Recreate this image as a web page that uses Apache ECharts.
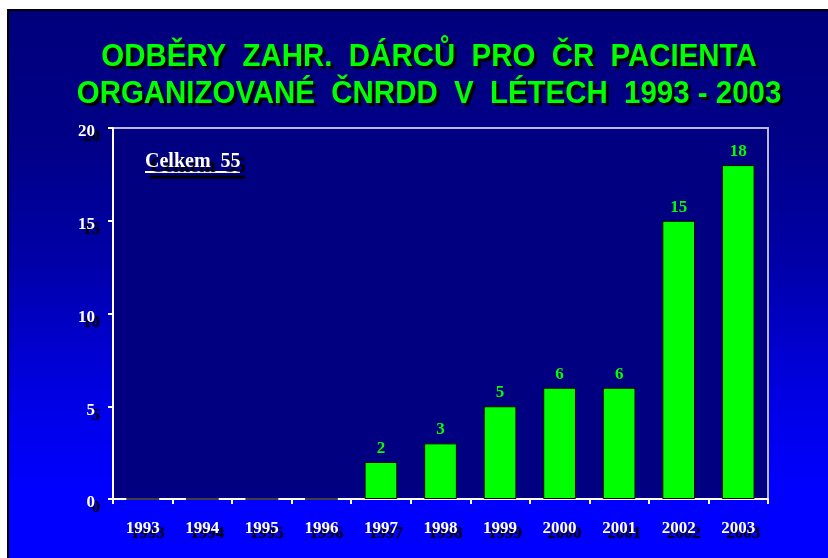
<!DOCTYPE html>
<html>
<head>
<meta charset="utf-8">
<script src="https://cdn.jsdelivr.net/npm/echarts@6/dist/echarts.min.js"></script>
<style>
  html, body { margin: 0; padding: 0; background: #fff; }
  #chart { width: 828px; height: 558px; }
</style>
</head>
<body>
<div id="chart"></div>
<script>
// roky a pocty odberu
var years = ["1993", "1994", "1995", "1996", "1997", "1998", "1999", "2000", "2001", "2002", "2003"];
var counts = [0, 0, 0, 0, 2, 3, 5, 6, 6, 15, 18];
var yTicks = [0, 5, 10, 15, 20];
var titleLines = ["ODBĚRY  ZAHR.  DÁRCŮ  PRO  ČR  PACIENTA", "ORGANIZOVANÉ  ČNRDD  V  LÉTECH  1993 - 2003"];
var totalText = "Celkem  55";

var serif = '"Liberation Serif", "Times New Roman", serif';
var sans = '"Liberation Sans", Arial, sans-serif';

var chart = echarts.init(document.getElementById("chart"));

// stin textu jako v puvodnim slajdu
var shadow = {
  textShadowColor: "#000",
  textShadowBlur: 1,
  textShadowOffsetX: 5,
  textShadowOffsetY: 5
};

chart.setOption({
  animation: false,
  backgroundColor: "#fff",
  graphic: [
    {
      type: "rect",
      z: -10,
      silent: true,
      shape: { x: 8, y: 10, width: 830, height: 560 },
      style: {
        stroke: "#000",
        lineWidth: 2,
        fill: new echarts.graphic.LinearGradient(0, 0, 0, 1, [
          { offset: 0, color: "#00007c" },
          { offset: 0.25, color: "#000088" },
          { offset: 0.45, color: "#0000a8" },
          { offset: 0.7, color: "#0000e6" },
          { offset: 0.86, color: "#0000ff" },
          { offset: 1, color: "#0000ff" }
        ])
      }
    },
    {
      type: "text",
      z: 100,
      x: 429,
      y: 39,
      scaleX: 0.92,
      style: {
        text: titleLines.join("\n"),
        font: "bold 32px " + sans,
        lineHeight: 37,
        fill: "#00ff00",
        textAlign: "center",
        textShadowColor: "#000",
        textShadowBlur: 1,
        textShadowOffsetX: 3,
        textShadowOffsetY: 3
      }
    },
    // podtrzeni "Celkem 55" (stin + bila cara)
    {
      type: "line",
      z: 99,
      shape: { x1: 150, y1: 177, x2: 245, y2: 177 },
      style: { stroke: "#000", lineWidth: 3 }
    },
    {
      type: "line",
      z: 100,
      shape: { x1: 145, y1: 172, x2: 240, y2: 172 },
      style: { stroke: "#fff", lineWidth: 2 }
    },
    {
      type: "text",
      z: 100,
      x: 145,
      y: 152,
      style: {
        text: totalText,
        font: "bold 20px " + serif,
        fill: "#fff",
        textShadowColor: "#000",
        textShadowBlur: 1,
        textShadowOffsetX: 5,
        textShadowOffsetY: 5
      }
    }
  ],
  grid: {
    left: 113,
    top: 128,
    right: 60,
    bottom: 59,
    show: true,
    backgroundColor: "#000080",
    borderColor: "#b8b8e0",
    borderWidth: 2
  },
  xAxis: {
    type: "category",
    data: years,
    axisLine: { lineStyle: { color: "#fff", width: 2 } },
    axisTick: { show: true, length: 5, lineStyle: { color: "#fff", width: 2 } },
    axisLabel: Object.assign({
      color: "#fff",
      fontFamily: serif,
      fontWeight: "bold",
      fontSize: 17,
      margin: 21
    }, shadow)
  },
  yAxis: {
    type: "value",
    min: yTicks[0],
    max: yTicks[yTicks.length - 1],
    interval: 5,
    splitLine: { show: false },
    axisLine: { show: true, lineStyle: { color: "#fff", width: 2 } },
    axisTick: { show: true, length: 5, lineStyle: { color: "#fff", width: 2 } },
    axisLabel: Object.assign({
      color: "#fff",
      fontFamily: serif,
      fontWeight: "bold",
      fontSize: 17,
      margin: 18,
      verticalAlign: "top",
      lineHeight: 8
    }, shadow)
  },
  series: [{
    type: "bar",
    data: counts,
    barWidth: "55%",
    itemStyle: {
      color: "#00ff00",
      borderColor: "#000",
      borderWidth: 1
    },
    label: {
      show: true,
      position: "top",
      distance: 5,
      color: "#00ff00",
      fontFamily: serif,
      fontWeight: "bold",
      fontSize: 17,
      formatter: function (p) {
        return p.value ? p.value : "";
      }
    }
  }]
});
</script>
</body>
</html>
